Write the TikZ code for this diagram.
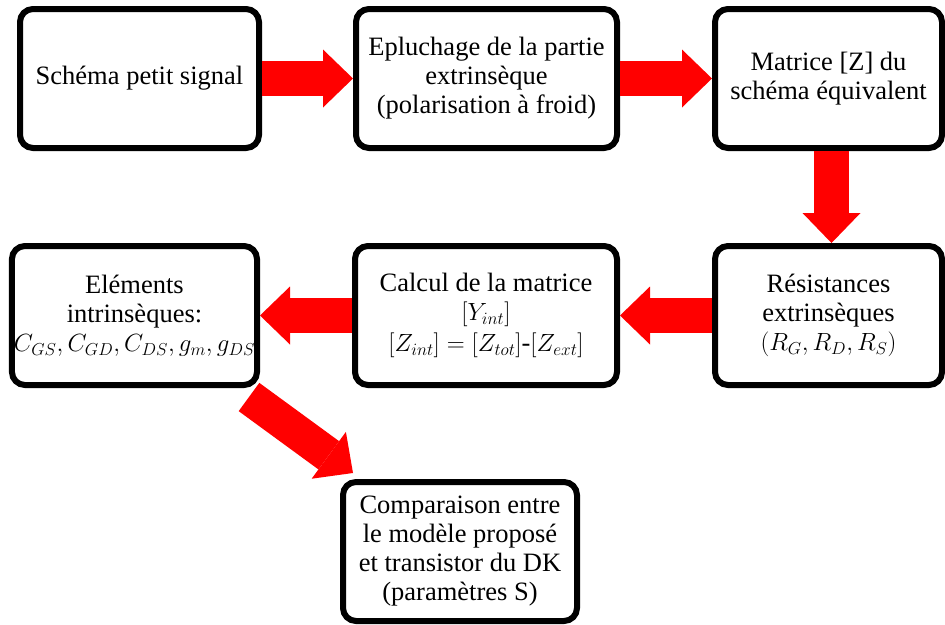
\documentclass[tikz,border=0pt]{standalone}
\usepackage{amsmath}
\usepackage{fontspec}
\setmainfont{Liberation Serif}
\usetikzlibrary{positioning,arrows.meta}
\tikzset{
  bloc/.style={draw=black, line width=6pt, rounded corners=13pt, fill=white,
    align=center, minimum height=139pt, inner sep=2pt,
    font=\fontsize{26.5}{29}\selectfont},
  fleche/.style={draw=red, line width=35pt,
    -{Triangle[length=30pt,width=58pt,line width=0pt]}}
}

\begin{document}
\begin{tikzpicture}[x=1pt,y=-1pt]
    \useasboundingbox (0,0) rectangle (945,624);
    % set up the nodes
    \node[bloc, minimum width=239pt] (schema) at (139.5,78.5) {Schéma petit signal};
    \node[bloc, minimum width=261pt, right=91pt of schema] (epluch) {Epluchage de la partie\\extrinsèque\\(polarisation à froid)};
    \node[bloc, minimum width=227pt, right=92pt of epluch] (matz) {Matrice [Z] du\\schéma équivalent};
    \node[bloc, minimum width=227pt, below=92pt of matz] (resist) {Résistances\\extrinsèques\\$(R_G, R_D, R_S)$};
    \node[bloc, minimum width=262pt, left=92pt of resist] (calcul) {Calcul de la matrice\\$[Y_{int}]$\\[2pt]$[Z_{int}]=[Z_{tot}]$-$[Z_{ext}]$};
    \node[bloc, minimum width=244pt, left=92pt of calcul] (elem) {Eléments\\intrinsèques:\\$C_{GS}, C_{GD}, C_{DS}, g_m, g_{DS}$};
    \node[bloc, minimum width=234pt, below right=91pt and 80pt of elem] (compar) {Comparaison entre\\le modèle proposé\\et transistor du DK\\(paramètres S)};
    % draw the red arrows between them
    \draw[fleche] (schema) -- (epluch);
    \draw[fleche] (epluch) -- (matz);
    \draw[fleche] ([xshift=3pt]matz.south) -- ([xshift=3pt]resist.north);
    \draw[fleche] (resist) -- (calcul);
    \draw[fleche] (calcul) -- (elem);
    \draw[fleche] ([xshift=-11pt,yshift=-9pt]elem.south east) -- ([xshift=13pt,yshift=6pt]compar.north west);
\end{tikzpicture}
\end{document}
